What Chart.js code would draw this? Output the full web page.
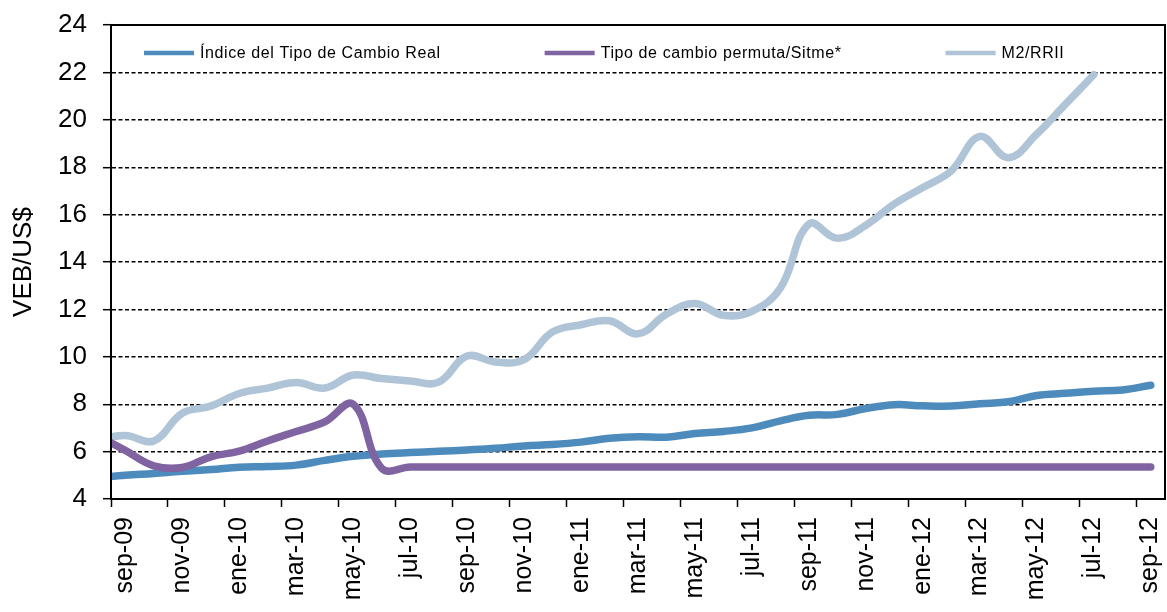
<!DOCTYPE html>
<html>
<head>
<meta charset="utf-8">
<script src="https://cdn.jsdelivr.net/npm/chart.js@4.4.1/dist/chart.umd.min.js"></script>
<style>
html,body{margin:0;padding:0;background:#fff;}
#wrap{width:1167px;height:612px;position:relative;}
</style>
</head>
<body>
<div id="wrap"><canvas id="c" width="1167" height="612"></canvas></div>
<script>
// ---- DATA ----
const months = ['ago-09','sep-09','oct-09','nov-09','dic-09','ene-10','feb-10','mar-10','abr-10','may-10','jun-10','jul-10',
  'ago-10','sep-10','oct-10','nov-10','dic-10','ene-11','feb-11','mar-11','abr-11','may-11','jun-11','jul-11',
  'ago-11','sep-11','oct-11','nov-11','dic-11','ene-12','feb-12','mar-12','abr-12','may-12','jun-12','jul-12','ago-12','sep-12'];
const tickLabels = ['sep-09','nov-09','ene-10','mar-10','may-10','jul-10','sep-10','nov-10','ene-11','mar-11',
  'may-11','jul-11','sep-11','nov-11','ene-12','mar-12','may-12','jul-12','sep-12'];
const itcr = [4.9,5.0,5.08,5.17,5.24,5.34,5.37,5.43,5.63,5.8,5.9,5.96,
  6.01,6.07,6.14,6.24,6.3,6.4,6.56,6.63,6.61,6.76,6.85,7.0,
  7.3,7.53,7.57,7.82,7.98,7.93,7.92,8.02,8.1,8.37,8.46,8.55,8.6,8.8];
const sitme = [6.7,6.05,5.4,5.33,5.78,6.02,6.45,6.85,7.25,8.0,5.3,5.35,
  5.35,5.35,5.35,5.35,5.35,5.35,5.35,5.35,5.35,5.35,5.35,5.35,
  5.35,5.35,5.35,5.35,5.35,5.35,5.35,5.35,5.35,5.35,5.35,5.35,5.35,5.35];
const m2rrii = [6.5,6.68,6.45,7.62,7.92,8.45,8.68,8.92,8.68,9.23,9.08,8.98,
  8.93,10.03,9.78,9.88,11.05,11.35,11.52,10.97,11.8,12.25,11.75,11.92,
  12.9,15.6,15.0,15.55,16.45,17.14,17.85,19.3,18.4,19.4,20.65,21.9,null,null];
const seriesNames = ['Índice del Tipo de Cambio Real','Tipo de cambio permuta/Sitme*','M2/RRII'];
const seriesColors = ['#4E8BBD','#8064A2','#AFC4D6'];
const yMin = 4, yMax = 24, yStep = 2;

// ---- BUILD ----
const FONT = 'Liberation Sans, Arial, sans-serif';
Chart.defaults.font.family = FONT;
const firstVisible = months.indexOf(tickLabels[0]);
const toPoints = arr => arr.map((v, i) => ({x: i - firstVisible + 0.5, y: v}));

const legendPlugin = {
  id: 'insideLegend',
  afterDraw(chart) {
    const ctx = chart.ctx, a = chart.chartArea;
    ctx.save();
    ctx.font = '16px ' + FONT;
    try { ctx.letterSpacing = '0.6px'; } catch (e) {}
    ctx.textBaseline = 'middle';
    ctx.fillStyle = '#000';
    let x = a.left + 33;
    const y = a.top + 28;
    seriesNames.forEach((name, i) => {
      ctx.strokeStyle = seriesColors[i];
      ctx.lineWidth = 4.5;
      ctx.lineCap = 'butt';
      ctx.beginPath(); ctx.moveTo(x, y); ctx.lineTo(x + 50, y); ctx.stroke();
      ctx.fillText(name, x + 56, y + 1);
      x += 56 + ctx.measureText(name).width + 104;
    });
    ctx.restore();
  }
};
const borderPlugin = {
  id: 'plotBorder',
  afterDraw(chart) {
    const ctx = chart.ctx, a = chart.chartArea;
    ctx.save();
    ctx.strokeStyle = '#000';
    ctx.lineWidth = 2;
    ctx.setLineDash([]);
    ctx.strokeRect(a.left, a.top, a.right - a.left, a.bottom - a.top);
    ctx.restore();
  }
};

const mkDs = (label, data, color, order) => ({
  label, data: toPoints(data), borderColor: color, backgroundColor: color,
  borderWidth: 7.5, pointRadius: 0, tension: 0.4, fill: false, clip: 0,
  borderCapStyle: 'round', borderJoinStyle: 'round', order
});
const zeroPad = s => { s.paddingTop = 0; s.paddingBottom = 0; s.paddingLeft = 0; s.paddingRight = 0; };

new Chart(document.getElementById('c'), {
  type: 'line',
  data: {
    datasets: [
      mkDs(seriesNames[0], itcr, seriesColors[0], 1),
      mkDs(seriesNames[1], sitme, seriesColors[1], 0),
      mkDs(seriesNames[2], m2rrii, seriesColors[2], 2)
    ]
  },
  options: {
    responsive: false, animation: false, devicePixelRatio: 1,
    layout: {padding: {top: 25, right: 2, left: 0, bottom: 0}},
    plugins: {legend: {display: false}, tooltip: {enabled: false}},
    scales: {
      x: {
        type: 'linear', min: 0, max: months.length - firstVisible,
        afterBuildTicks: s => { s.ticks = tickLabels.map(l => ({value: months.indexOf(l) - firstVisible})); },
        afterFit: s => { s.height = 113; zeroPad(s); },
        ticks: {
          autoSkip: false, minRotation: 90, maxRotation: 90, labelOffset: 14, padding: 10,
          color: '#000', font: {size: 25},
          callback: v => months[v + firstVisible]
        },
        grid: {drawOnChartArea: false, drawTicks: true, tickLength: 8, tickColor: '#000', tickWidth: 1.5},
        border: {display: true, color: '#000', width: 2}
      },
      y: {
        min: yMin, max: yMax,
        afterFit: s => { s.width = 111; zeroPad(s); },
        ticks: {stepSize: yStep, padding: 16, color: '#000', font: {size: 26}},
        grid: {color: '#000', lineWidth: 1.4, tickLength: 8, tickColor: '#000', tickWidth: 1.5},
        border: {display: true, color: '#000', width: 2, dash: [4, 2.5]},
        title: {display: true, text: 'VEB/US$', color: '#000', font: {size: 26}, padding: {top: 8, bottom: 0}}
      }
    }
  },
  plugins: [legendPlugin, borderPlugin]
});
</script>
</body>
</html>
